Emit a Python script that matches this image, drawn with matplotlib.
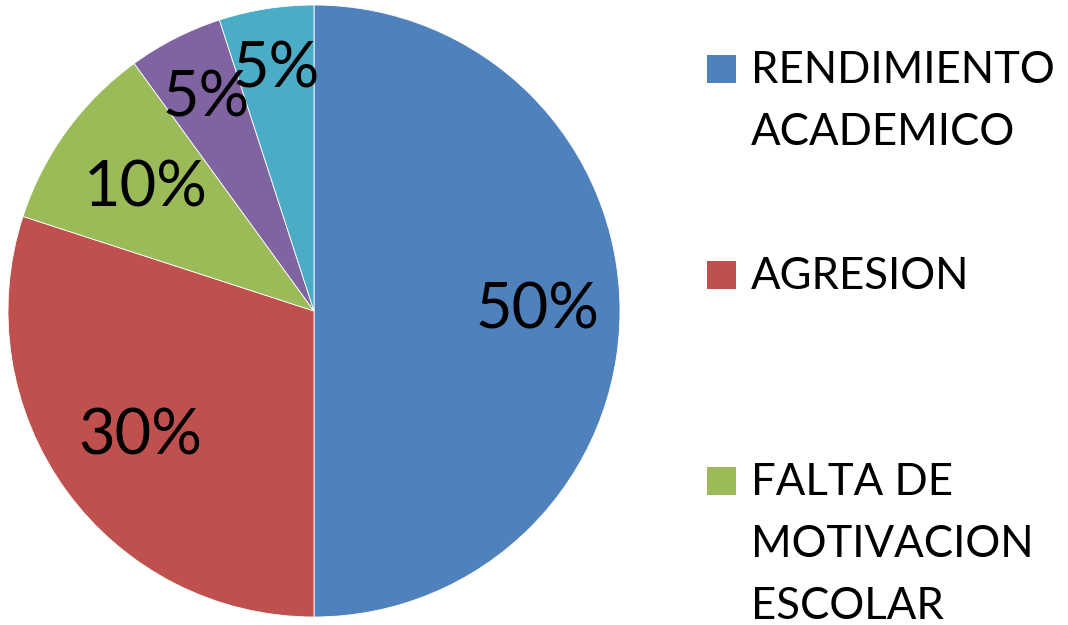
import matplotlib
matplotlib.use("Agg")
import matplotlib.pyplot as plt
import numpy as np
from matplotlib.patches import Rectangle

categories = ["RENDIMIENTO\nACADEMICO", "AGRESION", "FALTA DE\nMOTIVACION\nESCOLAR", "OTRO 1", "OTRO 2"]
values = [50, 30, 10, 5, 5]
pct_labels = ["50%", "30%", "10%", "5%", "5%"]
colors = ["#4F81BD", "#C0504D", "#9BBB59", "#8064A2", "#4BACC6"]
label_dist = [0.73, 0.70, 0.68, 0.78, 0.80]

W, H = 1068, 625
fig = plt.figure(figsize=(W / 100, H / 100), dpi=100)
fig.patch.set_facecolor("white")
FONT = "Lato"

cx, cy, r = 314, 311, 306
ax = fig.add_axes([(cx - r) / W, (H - cy - r) / H, 2 * r / W, 2 * r / H])
wedges, _ = ax.pie(values, colors=colors, startangle=90, counterclock=False,
                   wedgeprops=dict(edgecolor="white", linewidth=0.6))
ax.set_xlim(-1, 1)
ax.set_ylim(-1, 1)
ax.set_aspect("equal")
ax.axis("off")

for w, lab, d in zip(wedges, pct_labels, label_dist):
    ang = np.deg2rad((w.theta1 + w.theta2) / 2)
    ax.text(d * np.cos(ang), d * np.sin(ang), lab, ha="center", va="center",
            fontsize=45.5, family=FONT, color="black")

# legend (only first three entries fit in the frame)
base0 = 83
entry_step = 206
line_step = 62
for i, (cat, col) in enumerate(zip(categories[:3], colors[:3])):
    b = base0 + i * entry_step
    fig.patches.append(Rectangle((707 / W, (H - b) / H), 29 / W, 28 / H,
                                 transform=fig.transFigure, facecolor=col,
                                 edgecolor="none"))
    for j, line in enumerate(cat.split("\n")):
        fig.text(751 / W, (H - (b + j * line_step)) / H, line, ha="left",
                 va="baseline", fontsize=31.5, family=FONT, color="black")

fig.savefig("out.png", dpi=100, facecolor="white")
